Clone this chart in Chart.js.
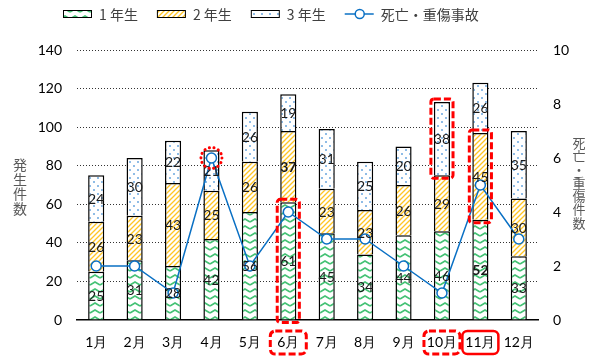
<!DOCTYPE html>
<html>
<head>
<meta charset="utf-8">
<script src="https://cdn.jsdelivr.net/npm/chart.js@4.4.1/dist/chart.umd.min.js"></script>
<style>
  html, body { margin: 0; padding: 0; background: #fff; }
  #wrap { width: 604px; height: 359px; }
</style>
</head>
<body>
<div id="wrap"><canvas id="chart"></canvas></div>
<script>
// data
const months = ['1月', '2月', '3月', '4月', '5月', '6月', '7月', '8月', '9月', '10月', '11月', '12月'];
const grade1 = [25, 31, 28, 42, 56, 61, 45, 34, 44, 46, 52, 33];
const grade2 = [26, 23, 43, 25, 26, 37, 23, 23, 26, 29, 45, 30];
const grade3 = [24, 30, 22, 21, 26, 19, 31, 25, 20, 38, 26, 35];
const accidents = [2, 2, 1, 6, 2, 4, 3, 3, 2, 1, 5, 3];
const seriesNames = ['1 年生', '2 年生', '3 年生', '死亡・重傷事故'];
const leftTitle = '発生件数';
const rightTitle = '死亡・重傷件数';

// red marks in the original (dataset index, month index)
const boxedSegments = [[0, 5], [2, 9], [1, 10]];
const boldLabels = [[1, 5], [0, 10]];
const circledPoint = 3;
const boxedMonths = [[5, 'dash'], [9, 'dash'], [10, 'solid']];

const numFont = 'Lato, "Liberation Sans", sans-serif';
const jpFont = '"Noto Sans CJK JP", sans-serif';

// fill patterns
function makePattern(w, h, draw) {
  const c = document.createElement('canvas');
  c.width = w; c.height = h;
  const g = c.getContext('2d');
  g.fillStyle = '#fff';
  g.fillRect(0, 0, w, h);
  draw(g);
  return g.createPattern(c, 'repeat');
}
const wavePattern = makePattern(10, 7, g => {
  g.strokeStyle = '#45c275';
  g.lineWidth = 1.6;
  g.beginPath();
  g.moveTo(0, 5); g.lineTo(5, 2); g.lineTo(10, 5);
  g.stroke();
});
const stripePattern = makePattern(5, 5, g => {
  g.strokeStyle = '#ffc525';
  g.lineWidth = 1.3;
  g.beginPath();
  g.moveTo(0, 5); g.lineTo(5, 0);
  g.moveTo(-1, 1); g.lineTo(1, -1);
  g.moveTo(4, 6); g.lineTo(6, 4);
  g.stroke();
});
const dotPattern = makePattern(8, 8, g => {
  g.fillStyle = '#6aa6de';
  g.beginPath(); g.arc(2, 2, 1, 0, Math.PI * 2); g.fill();
  g.beginPath(); g.arc(6, 6, 1, 0, Math.PI * 2); g.fill();
});

function roundRect(ctx, x, y, w, h, r) {
  ctx.beginPath();
  ctx.moveTo(x + r, y);
  ctx.arcTo(x + w, y, x + w, y + h, r);
  ctx.arcTo(x + w, y + h, x, y + h, r);
  ctx.arcTo(x, y + h, x, y, r);
  ctx.arcTo(x, y, x + w, y, r);
  ctx.closePath();
}

const overlay = {
  id: 'overlay',
  afterDatasetsDraw(chart) {
    const ctx = chart.ctx;
    ctx.save();
    // segment labels
    ctx.textAlign = 'center';
    ctx.textBaseline = 'middle';
    ctx.fillStyle = '#1a1a1a';
    for (let d = 0; d < 3; d++) {
      const meta = chart.getDatasetMeta(d);
      meta.data.forEach((bar, i) => {
        const bold = boldLabels.some(b => b[0] === d && b[1] === i);
        ctx.font = (bold ? 'bold ' : '') + '14px ' + numFont;
        ctx.fillText(chart.data.datasets[d].data[i], bar.x, (bar.y + bar.base) / 2 + 1);
      });
    }
    // dashed boxes round segments
    ctx.strokeStyle = '#ff0000';
    ctx.lineWidth = 3;
    ctx.setLineDash([7, 3]);
    boxedSegments.forEach(([d, i]) => {
      const bar = chart.getDatasetMeta(d).data[i];
      const pad = 3;
      roundRect(ctx, bar.x - bar.width / 2 - pad, bar.y - pad, bar.width + pad * 2, bar.base - bar.y + pad * 2, 3);
      ctx.stroke();
    });
    // dotted circle round the April point
    const pt = chart.getDatasetMeta(3).data[circledPoint];
    ctx.lineCap = 'round';
    ctx.lineWidth = 3;
    ctx.setLineDash([0.1, 4.6]);
    ctx.beginPath();
    ctx.arc(pt.x, pt.y, 10.5, 0, Math.PI * 2);
    ctx.stroke();
    ctx.lineCap = 'butt';
    // boxes round month labels
    const xs = chart.scales.x;
    boxedMonths.forEach(([i, style]) => {
      const cx = xs.getPixelForValue(i);
      ctx.lineWidth = style === 'solid' ? 2.5 : 3;
      ctx.setLineDash(style === 'solid' ? [] : [7, 3]);
      roundRect(ctx, cx - 18, 331, 36, 23, 5);
      ctx.stroke();
    });
    ctx.restore();
  },
  afterDraw(chart) {
    const ctx = chart.ctx;
    ctx.save();
    // vertical axis titles
    ctx.fillStyle = '#595959';
    ctx.textAlign = 'center';
    ctx.textBaseline = 'middle';
    ctx.font = '14px ' + jpFont;
    [...leftTitle].forEach((ch, k) => ctx.fillText(ch, 20, 165 + k * 14.5));
    ctx.font = '13px ' + jpFont;
    [...rightTitle].forEach((ch, k) => ctx.fillText(ch, 579, 143 + k * 13.3));
    // legend
    let x = 63;
    const y = 14;
    ctx.font = '14px ' + jpFont;
    ctx.textAlign = 'left';
    chart.data.datasets.forEach((ds, k) => {
      if (k < 3) {
        ctx.fillStyle = ds.backgroundColor;
        ctx.fillRect(x, y - 4, 29, 8);
        ctx.strokeStyle = '#000';
        ctx.lineWidth = 1;
        ctx.strokeRect(x + 0.5, y - 3.5, 28, 7);
      } else {
        ctx.strokeStyle = ds.borderColor;
        ctx.lineWidth = 1.5;
        ctx.beginPath();
        ctx.moveTo(x, y); ctx.lineTo(x + 29, y);
        ctx.stroke();
        ctx.fillStyle = '#fff';
        ctx.beginPath();
        ctx.arc(x + 15, y, 4.5, 0, Math.PI * 2);
        ctx.fill(); ctx.stroke();
      }
      ctx.fillStyle = '#404040';
      ctx.fillText(ds.label, x + 36, y + 1);
      x += 36 + ctx.measureText(ds.label).width + 19;
    });
    ctx.restore();
  }
};

new Chart(document.getElementById('chart'), {
  type: 'bar',
  data: {
    labels: months,
    datasets: [
      { label: seriesNames[0], data: grade1, backgroundColor: wavePattern, borderColor: '#000', borderWidth: 1.5, order: 1 },
      { label: seriesNames[1], data: grade2, backgroundColor: stripePattern, borderColor: '#000', borderWidth: 1.5, order: 1 },
      { label: seriesNames[2], data: grade3, backgroundColor: dotPattern, borderColor: '#000', borderWidth: 1.5, order: 1 },
      {
        label: seriesNames[3], type: 'line', data: accidents, yAxisID: 'y1', order: 0,
        borderColor: '#0a70c4', borderWidth: 1.5, pointRadius: 5, pointBorderWidth: 1.5,
        pointBackgroundColor: '#fff', pointBorderColor: '#0a70c4', tension: 0
      }
    ]
  },
  options: {
    responsive: true,
    maintainAspectRatio: false,
    animation: false,
    devicePixelRatio: 1,
    layout: { padding: { top: 50, left: 0, right: 0, bottom: 0 } },
    datasets: { bar: { categoryPercentage: 1, barPercentage: 0.42 } },
    plugins: { legend: { display: false }, tooltip: { enabled: false } },
    scales: {
      x: {
        stacked: true,
        grid: { display: false, drawTicks: false },
        border: { display: true, color: '#000', width: 1.5 },
        ticks: { padding: 14, color: '#000', font: { family: numFont, size: 14 } },
        afterFit: s => { s.height = 39; }
      },
      y: {
        stacked: true,
        min: 0, max: 140,
        ticks: { stepSize: 20, padding: 15, color: '#000', font: { family: numFont, size: 14 } },
        grid: { drawTicks: false, color: c => c.tick.value === 0 ? 'rgba(0,0,0,0)' : '#333', lineWidth: 1 },
        border: { display: false, dash: [1, 2] },
        afterFit: s => { s.width = 77; }
      },
      y1: {
        position: 'right',
        min: 0, max: 10,
        ticks: { stepSize: 2, padding: 15, color: '#000', font: { family: numFont, size: 14 } },
        grid: { display: false, drawTicks: false },
        border: { display: false },
        afterFit: s => { s.width = 66; }
      }
    }
  },
  plugins: [overlay]
});
</script>
</body>
</html>
